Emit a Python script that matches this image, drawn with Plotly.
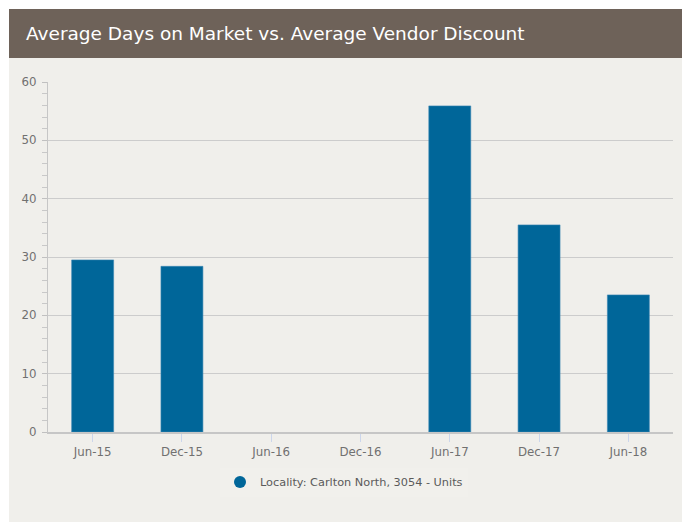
import plotly.graph_objects as go

categories = ["Jun-15", "Dec-15", "Jun-16", "Dec-16", "Jun-17", "Dec-17", "Jun-18"]
days_on_market = [29.5, 28.4, None, None, 55.9, 35.5, 23.5]
series_name = "Locality: Carlton North, 3054 - Units"
title_text = "Average Days on Market vs. Average Vendor Discount"

W, H = 690, 523
OFF = 8  # page body margin offset
# plot area in page pixels: x 48..673, y 82..432
L, T = 48 - OFF, 82 - OFF
R, B = W - (673 - OFF), H - (432 - OFF)
PW, PH = W - L - R, H - T - B

def px(x):
    return (x - OFF - L) / PW

def py(y):
    return (H - B - (y - OFF)) / PH

BAR = "#006699"
BG = "#f0efeb"
HEAD = "#6e6259"

fig = go.Figure()
fig.add_trace(go.Bar(x=categories, y=days_on_market, marker_color=BAR,
                     marker_line_color="#3a86b3", marker_line_width=0.6,
                     showlegend=False, name=series_name))
fig.add_trace(go.Scatter(x=[None], y=[None], mode="markers", name=series_name,
                         marker=dict(symbol="circle", size=11, color=BAR)))

fig.update_layout(
    width=W, height=H,
    margin=dict(l=L, r=R, t=T, b=B, autoexpand=False),
    paper_bgcolor="white", plot_bgcolor="rgba(0,0,0,0)",
    font=dict(family="DejaVu Sans", size=11, color="#666666"),
    bargap=0.53,
    showlegend=True,
    legend=dict(orientation="h", x=px(344), xanchor="center", y=py(482), yanchor="middle",
                bgcolor="rgba(255,255,255,0.08)", font=dict(size=11.3, color="#5a5a5a"),
                itemsizing="constant"),
    shapes=[
        dict(type="rect", xref="paper", yref="paper", x0=px(9), x1=px(685), y0=py(522), y1=py(58),
             fillcolor=BG, line_width=0, layer="below"),
        dict(type="rect", xref="paper", yref="paper", x0=px(9), x1=px(685), y0=py(58), y1=py(9),
             fillcolor=HEAD, line_width=0, layer="below"),
    ],
    annotations=[
        dict(text=title_text, xref="paper", yref="paper", x=px(24), y=py(34),
             xanchor="left", yanchor="middle", showarrow=False,
             font=dict(family="DejaVu Sans", size=18.5, color="white")),
    ],
)

fig.update_xaxes(
    showline=True, linecolor="#c6c6c6", linewidth=1.5,
    ticks="outside", ticklen=8, tickcolor="#ccd6eb", tickwidth=1,
    showgrid=False, tickfont=dict(size=11.8, color="#707070"),
)
fig.update_yaxes(
    range=[0, 60], dtick=10, tick0=0,
    showline=True, linecolor="#c6c6c6", linewidth=1,
    ticks="outside", ticklen=5, tickcolor="#c0c0c0", tickwidth=1,
    showgrid=True, gridcolor="#cccccc", gridwidth=1,
    zeroline=False,
    minor=dict(dtick=2, ticks="outside", ticklen=5, tickcolor="#c8c8c8", showgrid=False),
    tickfont=dict(size=11.8, color="#707070"),
    ticklabelstandoff=3,
)

fig.write_html("out.html")
